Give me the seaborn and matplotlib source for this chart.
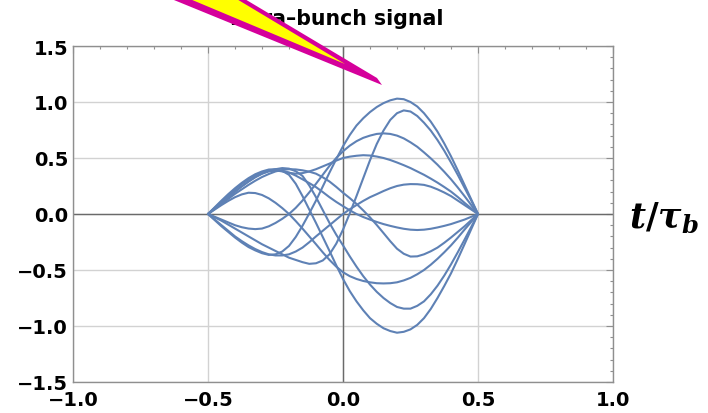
import numpy as np
import pandas as pd
import matplotlib
matplotlib.use("Agg")
import matplotlib.pyplot as plt
import seaborn as sns
from matplotlib.patches import Polygon
from matplotlib.ticker import MultipleLocator

# Sample times along the bunch (t / tau_b), step 0.025
t_grid = [round(-0.5 + 0.025 * k, 3) for k in range(41)]

# Pickup signal for ten successive turns
signal_1 = [0, -0.055, -0.11, -0.16, -0.21, -0.255, -0.295, -0.325, -0.35, -0.365,
            -0.36, -0.335, -0.285, -0.205, -0.105, 0.005, 0.12, 0.245, 0.37, 0.49,
            0.605, 0.705, 0.79, 0.855, 0.91, 0.955, 0.99, 1.015, 1.03, 1.025,
            1.0, 0.96, 0.9, 0.825, 0.735, 0.63, 0.515, 0.39, 0.26, 0.13, 0]
signal_2 = [0, -0.03, -0.06, -0.095, -0.13, -0.165, -0.2, -0.235, -0.27, -0.3,
            -0.33, -0.36, -0.39, -0.41, -0.43, -0.445, -0.44, -0.415, -0.36, -0.265,
            -0.14, 0.005, 0.16, 0.32, 0.48, 0.625, 0.745, 0.84, 0.9, 0.925,
            0.915, 0.875, 0.815, 0.745, 0.66, 0.565, 0.46, 0.35, 0.235, 0.12, 0]
signal_3 = [0, -0.025, -0.05, -0.075, -0.1, -0.118, -0.13, -0.135, -0.13, -0.11,
            -0.08, -0.043, 0.0, 0.055, 0.12, 0.193, 0.27, 0.35, 0.43, 0.5,
            0.56, 0.61, 0.65, 0.68, 0.7, 0.715, 0.72, 0.715, 0.7, 0.675,
            0.64, 0.6, 0.55, 0.497, 0.44, 0.377, 0.31, 0.237, 0.16, 0.08, 0]
signal_4 = [0, 0.055, 0.11, 0.165, 0.22, 0.268, 0.31, 0.345, 0.37, 0.385,
            0.39, 0.38, 0.368, 0.36, 0.365, 0.38, 0.4, 0.425, 0.45, 0.477,
            0.5, 0.512, 0.52, 0.525, 0.522, 0.513, 0.5, 0.482, 0.46, 0.436,
            0.41, 0.38, 0.35, 0.316, 0.28, 0.241, 0.2, 0.152, 0.1, 0.05, 0]
signal_5 = [0, -0.05, -0.1, -0.15, -0.2, -0.242, -0.28, -0.313, -0.34, -0.36,
            -0.37, -0.37, -0.36, -0.335, -0.3, -0.252, -0.2, -0.15, -0.1, -0.05,
            0.0, 0.042, 0.08, 0.117, 0.15, 0.177, 0.205, 0.23, 0.25, 0.262,
            0.267, 0.266, 0.26, 0.244, 0.22, 0.192, 0.16, 0.12, 0.08, 0.04, 0]
signal_6 = [0, 0.05, 0.1, 0.15, 0.2, 0.247, 0.29, 0.33, 0.36, 0.38,
            0.39, 0.385, 0.37, 0.343, 0.31, 0.276, 0.24, 0.196, 0.15, 0.108,
            0.07, 0.033, 0.0, -0.027, -0.05, -0.071, -0.09, -0.106, -0.12, -0.132,
            -0.14, -0.143, -0.14, -0.132, -0.12, -0.106, -0.09, -0.07, -0.05, -0.025, 0]
signal_7 = [0, 0.045, 0.09, 0.135, 0.18, 0.22, 0.26, 0.297, 0.33, 0.357,
            0.38, 0.393, 0.4, 0.398, 0.39, 0.378, 0.36, 0.328, 0.29, 0.242,
            0.19, 0.142, 0.09, 0.032, -0.03, -0.098, -0.17, -0.243, -0.31, -0.355,
            -0.38, -0.378, -0.36, -0.333, -0.3, -0.257, -0.21, -0.16, -0.11, -0.055, 0]
signal_8 = [0, 0.04, 0.08, 0.117, 0.15, 0.175, 0.19, 0.187, 0.17, 0.14,
            0.1, 0.053, 0.0, -0.063, -0.13, -0.2, -0.27, -0.342, -0.41, -0.47,
            -0.52, -0.555, -0.58, -0.598, -0.61, -0.618, -0.62, -0.618, -0.61, -0.593,
            -0.57, -0.538, -0.5, -0.453, -0.4, -0.342, -0.28, -0.212, -0.14, -0.07, 0]
signal_9 = [0, 0.05, 0.1, 0.15, 0.2, 0.247, 0.29, 0.328, 0.36, 0.385,
            0.4, 0.41, 0.405, 0.382, 0.34, 0.255, 0.15, 0.035, -0.08, -0.185,
            -0.28, -0.378, -0.47, -0.555, -0.63, -0.695, -0.75, -0.795, -0.83, -0.845,
            -0.845, -0.82, -0.78, -0.717, -0.64, -0.55, -0.45, -0.342, -0.23, -0.115, 0]
signal_10 = [0, 0.06, 0.12, 0.177, 0.23, 0.278, 0.32, 0.355, 0.38, 0.397,
             0.4, 0.385, 0.35, 0.27, 0.16, 0.04, -0.08, -0.205, -0.33, -0.458,
             -0.58, -0.688, -0.78, -0.86, -0.93, -0.98, -1.02, -1.045, -1.06, -1.052,
             -1.03, -0.99, -0.93, -0.848, -0.75, -0.643, -0.53, -0.403, -0.27, -0.135, 0]

signals = [signal_1, signal_2, signal_3, signal_4, signal_5,
           signal_6, signal_7, signal_8, signal_9, signal_10]

x_ticks = [-1.0, -0.5, 0.0, 0.5, 1.0]
x_tick_labels = ["\u22121.0", "\u22120.5", "0.0", "0.5", "1.0"]
y_ticks = [-1.5, -1.0, -0.5, 0.0, 0.5, 1.0, 1.5]
y_tick_labels = ["\u22121.5", "\u22121.0", "\u22120.5", "0.0", "0.5", "1.0", "1.5"]

title_text = "Intra\u2013bunch signal"
x_label = r"$t/\tau_b$"

# Long-format table: one row per sample, one unit per turn
df = pd.concat(
    [pd.DataFrame({"t": t_grid, "signal": s, "turn": i + 1}) for i, s in enumerate(signals)],
    ignore_index=True,
)

sns.set_theme(style="white")
plt.rcParams["font.family"] = ["DejaVu Sans"]
plt.rcParams["mathtext.fontset"] = "custom"
plt.rcParams["mathtext.it"] = "DejaVu Serif:italic:bold"
plt.rcParams["mathtext.rm"] = "DejaVu Serif:bold"
plt.rcParams["mathtext.bf"] = "DejaVu Serif:bold"

W, H = 708, 414
fig = plt.figure(figsize=(W / 100, H / 100), dpi=100)
ax = fig.add_axes([73 / W, 1 - 383 / H, 540 / W, 336 / H])

LINE = "#5e81b5"
FRAME = "#8f8f8f"

ax.set_xlim(-1, 1)
ax.set_ylim(-1.5, 1.5)

ax.grid(True, which="major", color="#d2d2d2", lw=1.0, zorder=0)
ax.axhline(0, color="#6a6a6a", lw=1.0, zorder=1)
ax.axvline(0, color="#6a6a6a", lw=1.0, zorder=1)

sns.lineplot(data=df, x="t", y="signal", units="turn", estimator=None,
             color=LINE, lw=1.5, ax=ax, legend=False, zorder=3)

ax.set_xlabel("")
ax.set_ylabel("")
ax.set_xticks(x_ticks, labels=x_tick_labels, fontsize=14, fontweight="bold")
ax.set_yticks(y_ticks, labels=y_tick_labels, fontsize=14, fontweight="bold")
ax.xaxis.set_minor_locator(MultipleLocator(0.1))
ax.yaxis.set_minor_locator(MultipleLocator(0.1))
ax.tick_params(which="both", direction="in", top=True, right=True,
               color=FRAME, width=0.8, labelcolor="black")
ax.tick_params(which="major", length=5)
ax.tick_params(which="minor", length=2.5)
ax.tick_params(axis="x", which="major", pad=5.5)
ax.tick_params(axis="y", which="major", pad=3.5)
for sp in ax.spines.values():
    sp.set_color(FRAME)
    sp.set_linewidth(1.0)

fig.text(337 / W, 1 - 19 / H, title_text, ha="center", va="center",
         fontsize=14.8, fontweight="bold", color="black", zorder=5)
fig.text(664 / W, 1 - 219 / H, x_label, ha="center", va="center",
         fontsize=25, color="black")


def to_fig(points):
    return [(x / W, 1 - y / H) for x, y in points]


# Yellow pointer with magenta rim, entering from the top edge
rim = Polygon(to_fig([(147, -10), (228, -10), (377, 79), (382, 86)]), closed=True,
              transform=fig.transFigure, facecolor="#d5009b", edgecolor="none",
              zorder=10, clip_on=False)
body = Polygon(to_fig([(166, -10), (220, -10), (345, 65)]), closed=True,
               transform=fig.transFigure, facecolor="#ffff00", edgecolor="none",
               zorder=11, clip_on=False)
fig.add_artist(rim)
fig.add_artist(body)

fig.savefig("out.png", dpi=100)
